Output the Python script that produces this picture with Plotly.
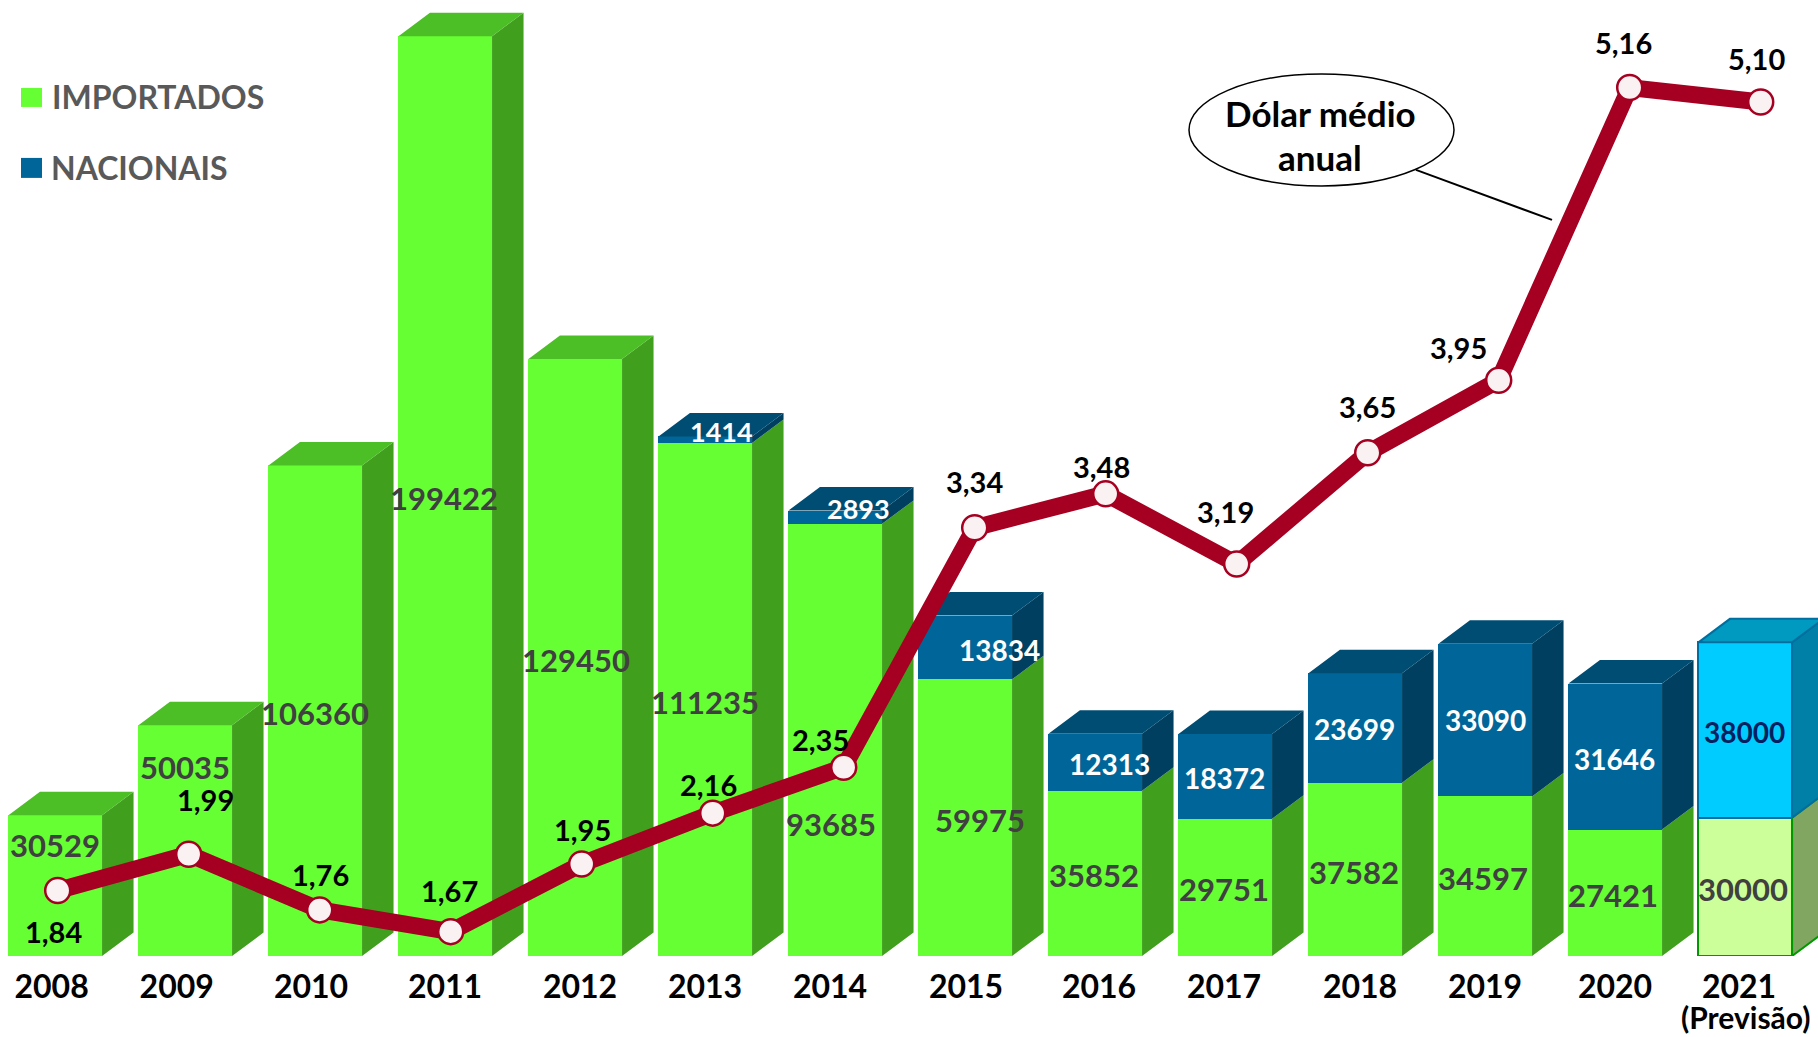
import plotly.graph_objects as go

# ---------- data ----------
years = ["2008", "2009", "2010", "2011", "2012", "2013", "2014",
         "2015", "2016", "2017", "2018", "2019", "2020", "2021"]
importados = [30529, 50035, 106360, 199422, 129450, 111235, 93685,
              59975, 35852, 29751, 37582, 34597, 27421, 30000]
nacionais = [0, 0, 0, 0, 0, 1414, 2893, 13834, 12313, 18372, 23699, 33090, 31646, 38000]
dolar = [1.84, 1.99, 1.76, 1.67, 1.95, 2.16, 2.35, 3.34, 3.48, 3.19, 3.65, 3.95, 5.16, 5.10]

# ---------- page geometry ----------
W, H = 1818, 1037
BASE = 956.5            # pixel row of the bars' base
PX_PER_UNIT = 0.004615  # bar axis scale
BAR_STEP, BAR_X0 = 130.0, 55.25
LINE_STEP, LINE_X0 = 131.0, 57.7
BAR_WIDTH = 0.72
DEPTH_X = 31.5 / BAR_STEP        # oblique depth of the 3D bars, in x units
DEPTH_Y = 23.5 / PX_PER_UNIT     # oblique depth of the 3D bars, in y units

# ---------- colours ----------
GREEN, GREEN_TOP, GREEN_SIDE = "#66ff33", "#4dbf26", "#40a01e"
BLUE, BLUE_TOP, BLUE_SIDE = "#006699", "#004d73", "#003f60"
LGREEN, LGREEN_SIDE, LGREEN_EDGE = "#ccff99", "#80a662", "#009900"
CYAN, CYAN_TOP, CYAN_SIDE, CYAN_EDGE = "#00ccff", "#0099bf", "#0080a6", "#006f9f"
LINE_RED = "#a50021"
FONT = "Lato"
face_edges = {CYAN_TOP: CYAN_EDGE, CYAN_SIDE: CYAN_EDGE, LGREEN_SIDE: LGREEN_EDGE}

# ---------- text placement (pixel centres) ----------
tick_px = [51.6, 176.7, 311, 445, 580, 705, 830, 966, 1099, 1224, 1360, 1485, 1615, 1739]
imp_label_px = [(55, 845), (185, 767), (315, 713), (444, 498), (576, 660), (705, 702), (831, 824),
                (980, 820), (1094, 875), (1224, 889), (1354, 872), (1483, 878), (1613, 895), (1743, 889)]
nac_label_px = [None, None, None, None, None, (721, 432), (858, 509),
                (999, 650), (1109, 764), (1224, 778), (1354, 729), (1485, 720), (1614, 759), (1744, 732)]
dolar_label_px = [(53, 932), (205, 800), (320, 875), (449, 891), (582, 830), (708, 785), (820, 740),
                  (974, 482), (1101, 467), (1225, 512), (1367, 407), (1458, 348), (1623, 43), (1756, 59)]

n = len(years)
xs = list(range(n))


def px(x):
    return x / W


def py(y):
    # "paper" spans the plot area, which ends at the bars' base
    return 1 - y / BASE


def polygons(rows):
    """Join polygons into a single fill trace."""
    X, Y = [], []
    for poly in rows:
        for a, b in poly:
            X.append(a)
            Y.append(b)
        X.append(poly[0][0])
        Y.append(poly[0][1])
        X.append(None)
        Y.append(None)
    return X, Y


faces = {}


def add_face(color, poly):
    faces.setdefault(color, []).append(poly)


for i in xs:
    x0, x1 = i - BAR_WIDTH / 2, i + BAR_WIDTH / 2
    imp, nac = importados[i], nacionais[i]
    total = imp + nac
    forecast = years[i] == "2021"
    add_face(LGREEN_SIDE if forecast else GREEN_SIDE,
             [(x1, 0), (x1 + DEPTH_X, DEPTH_Y), (x1 + DEPTH_X, imp + DEPTH_Y), (x1, imp)])
    if nac:
        add_face(CYAN_SIDE if forecast else BLUE_SIDE,
                 [(x1, imp), (x1 + DEPTH_X, imp + DEPTH_Y), (x1 + DEPTH_X, total + DEPTH_Y), (x1, total)])
    top_color = (CYAN_TOP if forecast else BLUE_TOP) if nac else GREEN_TOP
    add_face(top_color,
             [(x0, total), (x1, total), (x1 + DEPTH_X, total + DEPTH_Y), (x0 + DEPTH_X, total + DEPTH_Y)])

fig = go.Figure()

for color, polys in faces.items():
    fx, fy = polygons(polys)
    edge = face_edges.get(color)
    fig.add_trace(go.Scatter(x=fx, y=fy, mode="lines", fill="toself", fillcolor=color,
                             line=dict(width=2 if edge else 0, color=edge or color),
                             hoverinfo="skip", showlegend=False))

fig.add_trace(go.Bar(
    x=xs, y=importados, width=BAR_WIDTH, name="IMPORTADOS", showlegend=False,
    marker=dict(color=[LGREEN if y == "2021" else GREEN for y in years],
                line=dict(color=[LGREEN_EDGE if y == "2021" else GREEN for y in years],
                          width=[2.5 if y == "2021" else 0 for y in years]))))
fig.add_trace(go.Bar(
    x=xs, y=nacionais, width=BAR_WIDTH, name="NACIONAIS", showlegend=False,
    marker=dict(color=[CYAN if y == "2021" else BLUE for y in years],
                line=dict(color=[CYAN_EDGE if y == "2021" else BLUE for y in years],
                          width=[2.5 if y == "2021" else 0 for y in years]))))

fig.add_trace(go.Scatter(
    x=xs, y=dolar, xaxis="x2", yaxis="y2", mode="lines+markers", name="Dólar médio anual",
    showlegend=False, line=dict(color=LINE_RED, width=17),
    marker=dict(size=25, color="#faf2f2", line=dict(color=LINE_RED, width=2.5))))

notes = []


def note(text, x, y, size, color, **kw):
    notes.append(dict(text=text, x=px(x), y=py(y), xref="paper", yref="paper", showarrow=False,
                      xanchor="center", yanchor="middle",
                      font=dict(family=FONT, size=size, color=color, weight="bold"), **kw))


for i in xs:
    note(str(importados[i]), *imp_label_px[i], 31, "#404040")
    if nac_label_px[i]:
        small = nacionais[i] < 3000
        color = "#002060" if years[i] == "2021" else "#ffffff"
        note(str(nacionais[i]), *nac_label_px[i], 27 if small else 28, color)
    note(f"{dolar[i]:.2f}".replace(".", ","), *dolar_label_px[i], 29, "#000000")

note("(Previsão)", 1745, 1018, 30, "#000000")
note("Dólar médio", 1320, 113, 35, "#000000")
note("anual", 1320, 157, 35, "#000000")
note("IMPORTADOS", 158, 97, 32, "#595959")
note("NACIONAIS", 139, 168, 32, "#595959")

shapes = [
    dict(type="rect", xref="paper", yref="paper", x0=px(21), x1=px(42), y0=py(107), y1=py(88),
         fillcolor=GREEN, line=dict(width=0)),
    dict(type="rect", xref="paper", yref="paper", x0=px(21), x1=px(42), y0=py(178), y1=py(158),
         fillcolor=BLUE, line=dict(width=0)),
    dict(type="line", xref="paper", yref="paper", x0=px(1416), x1=px(1552), y0=py(170), y1=py(220),
         line=dict(color="#000000", width=2)),
    dict(type="circle", xref="paper", yref="paper", x0=px(1189), x1=px(1454), y0=py(186), y1=py(74),
         fillcolor="#ffffff", line=dict(color="#000000", width=1.5)),
]

bar_range_x = [-BAR_X0 / BAR_STEP, (W - BAR_X0) / BAR_STEP]
line_range_x = [-LINE_X0 / LINE_STEP, (W - LINE_X0) / LINE_STEP]
bar_range_y = [0, BASE / PX_PER_UNIT]
line_range_y = [dolar[0] - (BASE - 891) / 242, dolar[0] + 891 / 242]

fig.update_layout(
    width=W, height=H, margin=dict(l=0, r=0, t=0, b=H - BASE, pad=0, autoexpand=False),
    paper_bgcolor="#ffffff", plot_bgcolor="#ffffff", barmode="stack", bargap=0,
    showlegend=False, font=dict(family=FONT),
    xaxis=dict(range=bar_range_x, showgrid=False, zeroline=False, showline=False,
               tickmode="array", tickvals=[(p - BAR_X0) / BAR_STEP for p in tick_px], ticktext=years,
               ticks="outside", ticklen=3, tickcolor="rgba(0,0,0,0)",
               tickfont=dict(family=FONT, size=32, color="#000000", weight="bold")),
    yaxis=dict(range=bar_range_y, visible=False, showgrid=False, zeroline=False),
    xaxis2=dict(range=line_range_x, overlaying="x", anchor="y2", visible=False),
    yaxis2=dict(range=line_range_y, overlaying="y", anchor="x2", visible=False),
    annotations=notes, shapes=shapes,
)

fig.write_html("out.html", config=dict(displayModeBar=False),
               post_script="document.body.style.margin='0';")
